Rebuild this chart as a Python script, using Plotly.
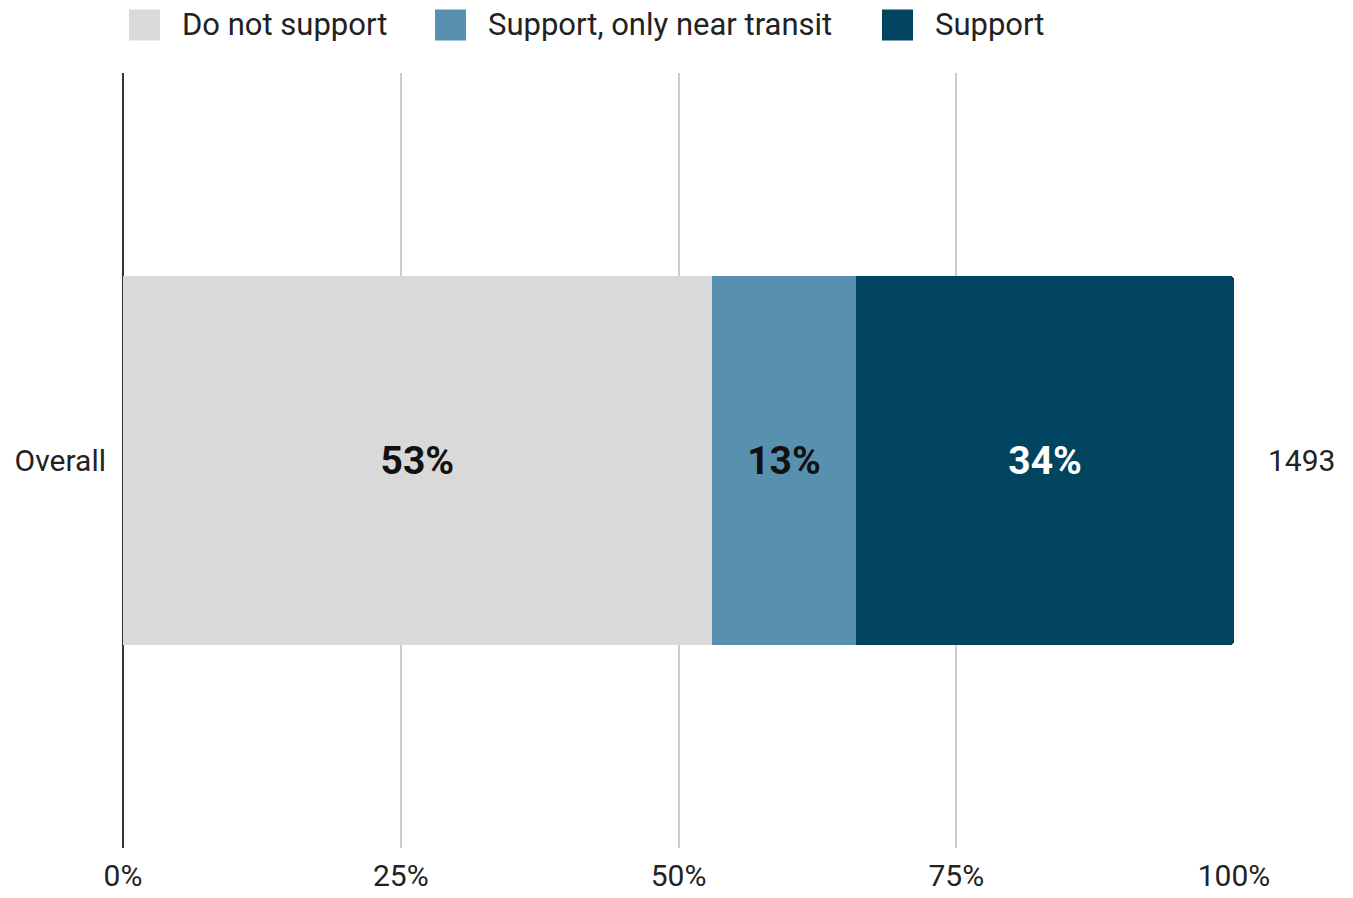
import plotly.graph_objects as go

# Survey results (share of respondents, %)
categories = ["Overall"]
series_names = ["Do not support", "Support, only near transit", "Support"]
do_not_support = [53]
support_near_transit = [13]
support = [34]
respondents = [1493]
tick_values = [0, 25, 50, 75, 100]
tick_labels = ["0%", "25%", "50%", "75%", "100%"]

colors = ["#d9d9d9", "#5891b0", "#00445f"]
label_colors = ["#111111", "#111111", "#ffffff"]
series_values = [do_not_support, support_near_transit, support]

FONT = "Roboto, Arial, sans-serif"

fig = go.Figure()
for name, vals, col, lcol in zip(series_names, series_values, colors, label_colors):
    fig.add_trace(go.Bar(
        y=categories,
        x=vals,
        name=name,
        orientation="h",
        marker=dict(color=col, line=dict(width=0)),
        text=[f"{v}%" for v in vals],
        textposition="inside",
        insidetextanchor="middle",
        textangle=0,
        textfont=dict(family=FONT, size=39, color=lcol, weight="bold"),
        width=0.476,
        showlegend=False,
        hoverinfo="skip",
    ))

# Respondent count to the right of the bar
for cat, n in zip(categories, respondents):
    fig.add_annotation(
        x=100, y=cat, xref="x", yref="y",
        text=str(n), showarrow=False,
        xanchor="left", yanchor="middle", xshift=32,
        font=dict(family=FONT, size=30, color="#222222"),
    )

# Legend row along the top
legend_x_px = [129, 435, 882]
plot_left, plot_w = 123, 1111
plot_top, plot_h = 73, 775
sq = 31
legend_y_px = 25
for name, col, xpx in zip(series_names, colors, legend_x_px):
    x0 = (xpx - plot_left) / plot_w
    x1 = (xpx + sq - plot_left) / plot_w
    y0 = 1 + (plot_top - (legend_y_px + sq / 2)) / plot_h
    y1 = 1 + (plot_top - (legend_y_px - sq / 2)) / plot_h
    fig.add_shape(
        type="rect", xref="paper", yref="paper",
        x0=x0, x1=x1, y0=y0, y1=y1,
        fillcolor=col, line=dict(width=0), layer="above",
    )
    fig.add_annotation(
        x=(xpx + sq + 20 - plot_left) / plot_w,
        y=1 + (plot_top - legend_y_px) / plot_h,
        xref="paper", yref="paper",
        text=name, showarrow=False,
        xanchor="left", yanchor="middle",
        font=dict(family=FONT, size=31, color="#222222"),
    )

fig.update_layout(
    barmode="stack",
    barcornerradius=4,
    width=1353, height=898,
    margin=dict(l=123, r=119, t=73, b=50),
    paper_bgcolor="white",
    plot_bgcolor="white",
    font=dict(family=FONT, color="#222222"),
    showlegend=False,
)
fig.update_xaxes(
    range=[0, 100],
    tickvals=tick_values,
    ticktext=tick_labels,
    showgrid=True,
    gridcolor="#cccccc",
    gridwidth=2,
    zeroline=True,
    zerolinecolor="#333333",
    zerolinewidth=2,
    showline=False,
    ticks="",
    ticklabelstandoff=7,
    automargin=False,
    tickfont=dict(family=FONT, size=30, color="#222222"),
    fixedrange=True,
)
fig.update_yaxes(
    range=[-0.5, 0.5],
    showgrid=False,
    showline=False,
    ticks="",
    ticklabelstandoff=16,
    automargin=False,
    tickfont=dict(family=FONT, size=30, color="#222222"),
    fixedrange=True,
)

fig.write_html("out.html", config={"displayModeBar": False})
